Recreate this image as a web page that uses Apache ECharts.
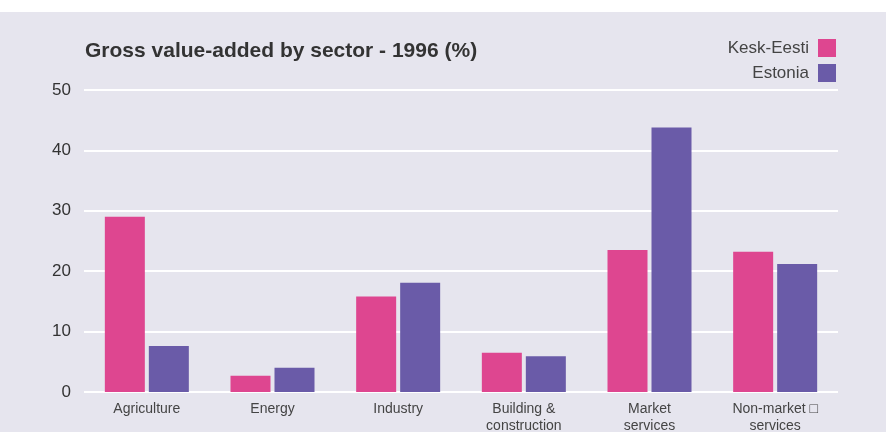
<!DOCTYPE html>
<html><head><meta charset="utf-8">
<script src="https://cdn.jsdelivr.net/npm/echarts@6/dist/echarts.min.js"></script>
<style>html,body{margin:0;padding:0;background:#fff}#c{width:886px;height:432px}</style>
</head><body><div id="c"></div>
<script>
const categories = ['Agriculture', 'Energy', 'Industry', 'Building &\nconstruction', 'Market\nservices', 'Non-market \u25a1\nservices'];
const keskEesti = [29.0, 2.7, 15.8, 6.5, 23.5, 23.2];
const estonia = [7.6, 4.0, 18.1, 5.9, 43.8, 21.2];
const yTicks = [0, 10, 20, 30, 40, 50];
const titleText = 'Gross value-added by sector - 1996 (%)';

const chart = echarts.init(document.getElementById('c'));
chart.setOption({
  backgroundColor: '#fff',
  animation: false,
  graphic: [{type: 'rect', z: -10, silent: true, shape: {x: 0, y: 12, width: 886, height: 420}, style: {fill: '#e6e5ee'}}],
  title: {text: titleText, left: 80, top: 36, textStyle: {fontFamily: 'Liberation Sans, Arial', fontWeight: 'bold', fontSize: 21, color: '#333'}},
  legend: {
    orient: 'vertical', right: 45, top: 34, align: 'right', itemWidth: 18, itemHeight: 18, itemGap: 7,
    icon: 'rect',
    textStyle: {fontFamily: 'Liberation Sans, Arial', fontSize: 17, color: '#444', padding: [0, 4, 0, 0]},
    data: ['Kesk-Eesti', 'Estonia']
  },
  grid: {left: 84, right: 48, top: 90, bottom: 40, containLabel: false, outerBoundsMode: 'none'},
  xAxis: {
    type: 'category', data: categories,
    axisLine: {show: false}, axisTick: {show: false},
    axisLabel: {fontFamily: 'Liberation Sans, Arial', fontSize: 14, color: '#444', lineHeight: 17, margin: 9, interval: 0}
  },
  yAxis: {
    type: 'value', min: 0, max: 50, interval: 10,
    axisLine: {show: false}, axisTick: {show: false},
    splitLine: {lineStyle: {color: '#fff', width: 2}},
    axisLabel: {fontFamily: 'Liberation Sans, Arial', fontSize: 17, color: '#333', margin: 13,
      formatter: v => yTicks.includes(v) ? String(v) : ''}
  },
  series: [
    {name: 'Kesk-Eesti', type: 'bar', data: keskEesti, barWidth: 40, barGap: '10%', itemStyle: {color: '#de4690'}},
    {name: 'Estonia', type: 'bar', data: estonia, barWidth: 40, barGap: '10%', itemStyle: {color: '#6a5ba8'}}
  ]
});
</script></body></html>
